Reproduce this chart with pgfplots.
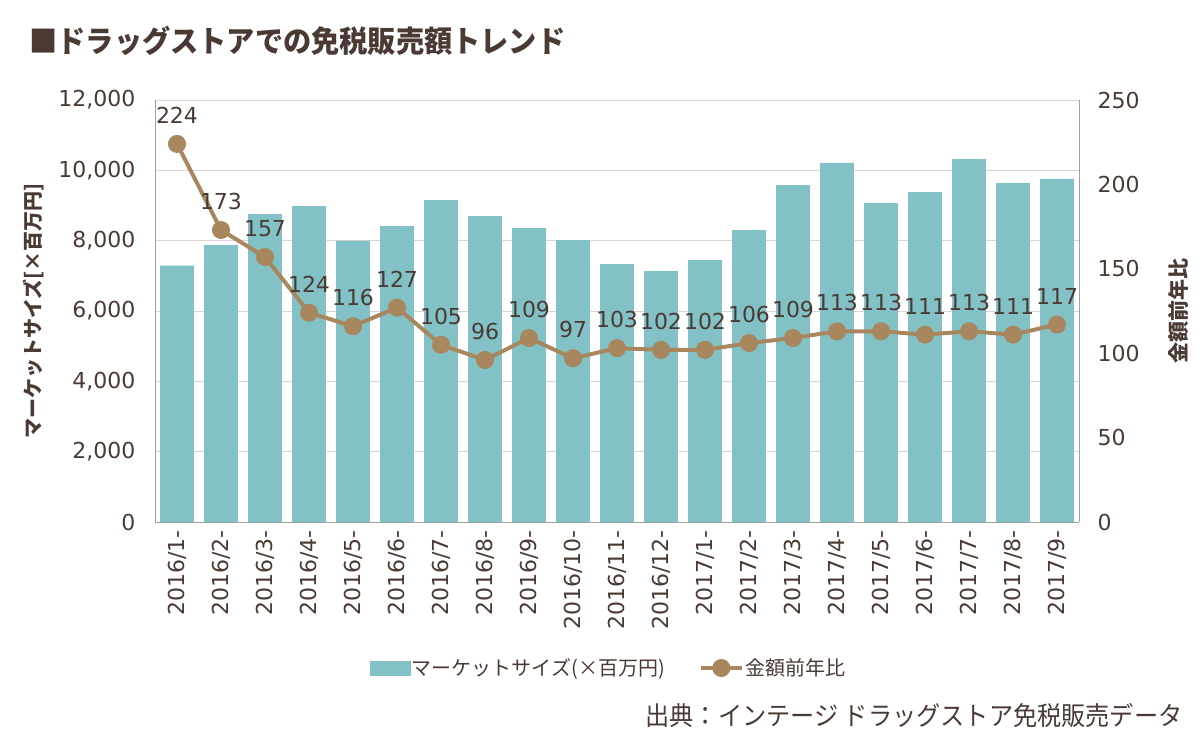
\documentclass[border=0pt]{standalone}
\usepackage{fontspec}
\usepackage{graphicx}
\usepackage{pgfplots}
\usepackage{pgfplotstable}
\pgfplotsset{compat=1.18}
\setmainfont{DejaVu Sans}
\newfontfamily\jp{Noto Sans CJK JP}
\definecolor{barc}{HTML}{82C2C6}
\definecolor{linec}{HTML}{A8865E}
\definecolor{txt}{HTML}{4A3A33}
\definecolor{gridc}{HTML}{DDD3D3}
\definecolor{axc}{HTML}{A0A0A0}

\pgfplotstableread{
x bar ratio
0 7288 224
1 7877 173
2 8758 157
3 8986 124
4 7991 116
5 8417 127
6 9156 105
7 8701 96
8 8360 109
9 8019 97
10 7336 103
11 7137 102
12 7450 102
13 8303 106
14 9583 109
15 10209 113
16 9071 113
17 9384 111
18 10322 113
19 9640 111
20 9754 117
}\data

\begin{document}
\begin{tikzpicture}
\path[use as bounding box] (0pt,0pt) rectangle (1204pt,-748pt);
\begin{axis}[
  at={(155pt,-522pt)}, anchor=south west,
  scale only axis, width=924pt, height=422pt,
  xmin=-0.5, xmax=20.5, ymin=0, ymax=12000,
  axis x line*=bottom, axis y line*=left,
  axis line style={axc, line width=1pt, -},
  ytick={0,2000,...,12000},
  ymajorgrids, grid style={gridc, line width=1pt},
  major tick length=0pt,
  scaled y ticks=false,
  /pgf/number format/.cd, 1000 sep={,}, assume math mode=true,
  /pgfplots/.cd,
  yticklabel style={font=\fontsize{22}{22}\selectfont, text=txt},
  yticklabel shift=16pt,
  xtick={0,...,20},
  xticklabels={2016/1-,2016/2-,2016/3-,2016/4-,2016/5-,2016/6-,2016/7-,2016/8-,2016/9-,2016/10-,2016/11-,2016/12-,2017/1-,2017/2-,2017/3-,2017/4-,2017/5-,2017/6-,2017/7-,2017/8-,2017/9-},
  xticklabel style={rotate=90, anchor=east, font=\fontsize{22}{22}\selectfont, text=txt},
  xticklabel shift=5pt,
]
\addplot[ybar, bar width=0.77, fill=barc, draw=none] table[x=x,y=bar]{\data};
\end{axis}
\begin{axis}[
  at={(155pt,-522pt)}, anchor=south west,
  scale only axis, width=924pt, height=422pt,
  xmin=-0.5, xmax=20.5, ymin=0, ymax=250,
  axis x line=none, axis y line*=right,
  axis line style={axc, line width=1pt, -},
  ytick={0,50,...,250},
  major tick length=0pt,
  /pgf/number format/assume math mode=true,
  yticklabel style={font=\fontsize{22}{22}\selectfont, text=txt, anchor=west},
  yticklabel shift=15pt,
  clip=false,
  legend style={at={(rel axis cs:0.491,-0.346)}, anchor=center, draw=none, fill=none,
    legend columns=2, font=\jp\fontsize{20}{20}\selectfont, text=txt,
    /tikz/every even column/.append style={column sep=32pt}},
  legend cell align=left,
]
\addlegendimage{legend image code/.code={\fill[barc] (0pt,-7pt) rectangle (40pt,7pt);}}
\addlegendentry{マーケットサイズ(×百万円)}
\addplot[linec, line width=4pt, mark=*, mark size=7pt, mark options={fill=linec, draw=linec},
  nodes near coords, point meta=explicit symbolic,
  every node near coord/.append style={font=\fontsize{22}{22}\selectfont, text=txt, anchor=south, yshift=15pt},
  legend image code/.code={\draw[linec, line width=4pt] (0pt,0pt) -- (41pt,0pt); \fill[linec] (20.5pt,0pt) circle (7pt);}
] table[x=x,y=ratio,meta=ratio]{\data};
\addlegendentry{金額前年比}
\end{axis}
\node[anchor=west, text=txt, font=\jp\bfseries\fontsize{30}{30}\selectfont] at (26pt,-41pt) {\scalebox{0.94}[1]{■ドラッグストアでの免税販売額トレンド}};
\node[rotate=90, text=txt, font=\jp\bfseries\fontsize{20}{20}\selectfont] at (33pt,-311pt) {マーケットサイズ[×百万円]};
\node[rotate=90, text=txt, font=\jp\bfseries\fontsize{21}{21}\selectfont] at (1178pt,-311pt) {金額前年比};
\node[anchor=east, text=txt, font=\jp\fontsize{26}{26}\selectfont] at (1186pt,-715pt) {\scalebox{0.93}[1]{出典：インテージ ドラッグストア免税販売データ}};
\end{tikzpicture}
\end{document}
